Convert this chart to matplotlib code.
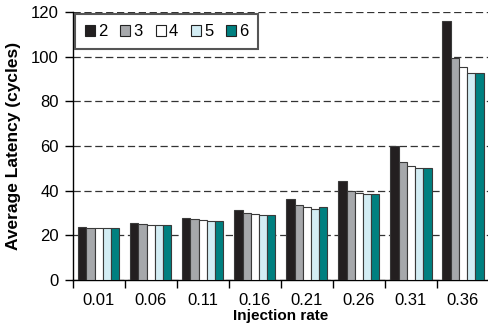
import numpy as np
import matplotlib
matplotlib.use('Agg')
import matplotlib.pyplot as plt

plt.rcParams['font.family'] = ['Liberation Sans', 'DejaVu Sans']

RATES = ['0.01', '0.06', '0.11', '0.16', '0.21', '0.26', '0.31', '0.36']
SERIES = ['2', '3', '4', '5', '6']
LAT_2 = [23.6, 25.5, 27.9, 31.3, 36.4, 44.5, 60.1, 116.1]
LAT_3 = [23.4, 24.9, 27.2, 29.8, 33.6, 39.9, 52.7, 99.5]
LAT_4 = [23.4, 24.8, 26.7, 29.4, 32.8, 38.8, 51.0, 95.4]
LAT_5 = [23.4, 24.7, 26.6, 29.3, 31.6, 38.4, 50.1, 92.5]
LAT_6 = [23.4, 24.7, 26.5, 29.0, 32.5, 38.4, 50.1, 92.5]
COLORS = ['#231f20', '#a6a8ab', '#ffffff', '#d3edf4', '#008080']

values = [LAT_2, LAT_3, LAT_4, LAT_5, LAT_6]

fig = plt.figure(figsize=(4.89, 3.32), dpi=100)
ax = fig.add_axes([0.1487, 0.1566, 0.8513, 0.8073])

x = np.arange(len(RATES))
w = 0.158
for i, (name, vals, col) in enumerate(zip(SERIES, values, COLORS)):
    ax.bar(x + (i - 2) * w, vals, width=w, color=col, edgecolor='#3a3a3a',
           linewidth=0.8, label=name, zorder=3)

ax.set_xlim(-0.5, 7.46)
ax.set_ylim(0, 120)
ax.set_yticks(range(0, 121, 20))
ax.yaxis.grid(True, color='#333333', linestyle=(0, (5.8, 2.9)), linewidth=0.9, zorder=0)
ax.set_axisbelow(True)

# group boundaries as major ticks, labels on minor ticks
ax.set_xticks(np.arange(-0.5, 8, 1))
ax.set_xticklabels([])
ax.set_xticks(x, minor=True)
ax.set_xticklabels(RATES, minor=True)
ax.tick_params(axis='x', which='major', length=6, width=1, direction='out')
ax.tick_params(axis='x', which='minor', length=0, pad=9, labelsize=12)
ax.tick_params(axis='y', length=6, width=1, direction='out', pad=4, labelsize=12)

for s in ['top', 'right']:
    ax.spines[s].set_visible(False)
ax.spines['left'].set_linewidth(1)
ax.spines['bottom'].set_linewidth(1)

ax.set_ylabel('Average Latency (cycles)', fontsize=12.5, fontweight='bold', labelpad=7)
ax.set_xlabel('Injection rate', fontsize=11, fontweight='bold', labelpad=1)

leg = ax.legend(ncol=5, loc='upper left', bbox_to_anchor=(0.0, 1.0), fontsize=12,
                handlelength=0.6, handleheight=0.6, handletextpad=0.2,
                columnspacing=0.75, borderpad=0.6, borderaxespad=0.15,
                fancybox=False, framealpha=1)
leg.get_frame().set_edgecolor('#555555')
leg.get_frame().set_linewidth(1.5)
for h in leg.legend_handles:
    h.set_edgecolor('#222222')
    h.set_linewidth(0.8)

fig.savefig('out.png', dpi=100)
